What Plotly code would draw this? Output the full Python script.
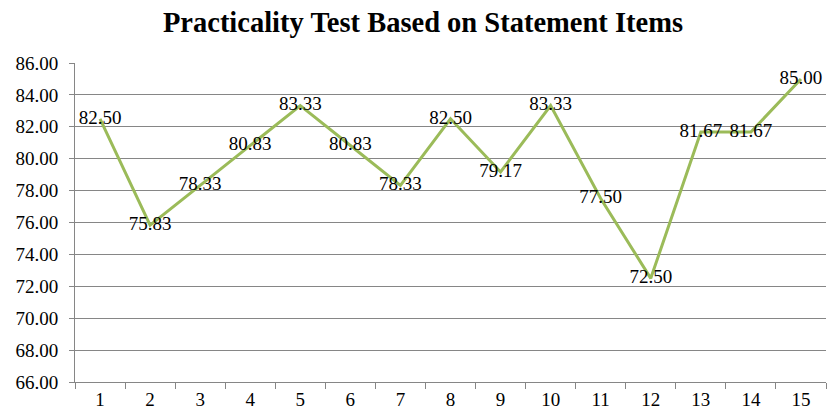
import plotly.graph_objects as go

items = [str(i) for i in range(1, 16)]
scores = [82.50, 75.83, 78.33, 80.83, 83.33, 80.83, 78.33, 82.50, 79.17, 83.33, 77.50, 72.50, 81.67, 81.67, 85.00]
y_ticks = [66 + 2 * i for i in range(11)]

font_family = "Liberation Serif, Times New Roman, serif"

fig = go.Figure(go.Scatter(
    x=items, y=scores, mode="lines+text",
    line=dict(color="#9BBB59", width=3),
    text=[f"{v:.2f}" for v in scores],
    textposition="middle center",
    textfont=dict(family=font_family, size=19, color="#000000"),
    cliponaxis=False,
    hoverinfo="skip",
))

fig.update_layout(
    width=840, height=417,
    margin=dict(l=67, r=22, t=55, b=43, autoexpand=False),
    paper_bgcolor="white", plot_bgcolor="white",
    showlegend=False,
    title=dict(text="<b>Practicality Test Based on Statement Items</b>",
               x=0.494, xanchor="center", y=0.966, yanchor="middle",
               font=dict(family=font_family, size=28.5, color="#000000")),
    font=dict(family=font_family, size=19, color="#000000"),
)
fig.update_xaxes(
    type="category", range=[-0.5, len(items) - 0.5],
    tickson="boundaries", ticks="outside", ticklen=6,
    tickcolor="#868686", showline=True, linecolor="#868686", linewidth=1,
    showgrid=False, tickfont=dict(family=font_family, size=19),
)
fig.update_yaxes(
    range=[66, 86], tickvals=y_ticks, ticktext=[f"{v:.2f}" for v in y_ticks],
    ticks="outside", ticklen=5, tickcolor="#868686", ticklabelstandoff=7,
    showline=True, linecolor="#868686", linewidth=1,
    showgrid=True, gridcolor="#868686", gridwidth=1,
    zeroline=False, tickfont=dict(family=font_family, size=19),
)

fig.write_html("out.html")
